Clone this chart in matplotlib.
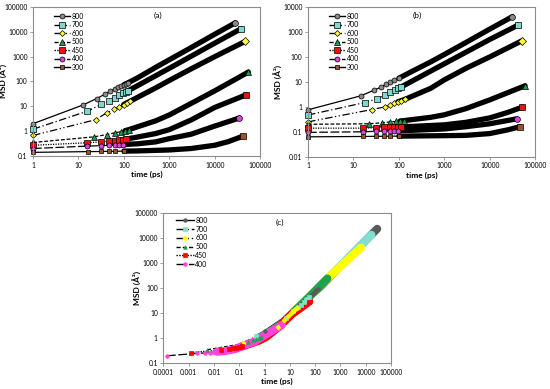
import matplotlib
matplotlib.use('Agg')
import matplotlib.pyplot as plt
import numpy as np
from matplotlib.lines import Line2D
from matplotlib.ticker import FuncFormatter, NullLocator

plt.rcParams['font.family'] = ['Lato', 'DejaVu Sans']

# ---------------- data: panel (a) ----------------
temps_a = ['800', '700', '600', '500', '450', '400', '300']

t_a_800 = [1, 12.9, 25, 37.5, 50, 62.5, 75, 87.5, 100, 112, 125, 200, 500, 1000, 3000, 10000, 28400]
msd_a_800 = [2.0, 11.5, 20.5, 30, 40, 49, 58, 66, 74, 82, 90, 140, 370, 750, 2300, 8000, 23000]

t_a_700 = [1, 15.8, 31.5, 47, 63, 79, 95, 110, 126, 200, 500, 1000, 3000, 10000, 38000]
msd_a_700 = [1.2, 6.4, 12, 17, 22, 27.5, 33, 38, 43, 68, 170, 340, 1030, 3500, 13300]

t_a_600 = [1, 24, 42, 61, 80, 99, 118, 137, 200, 500, 1000, 3000, 10000, 46500]
msd_a_600 = [0.67, 2.9, 5.5, 7.6, 9.7, 11.8, 14, 16, 23, 55, 110, 320, 1000, 4100]

t_a_500 = [1, 22, 42, 64, 85, 106, 128, 200, 500, 1000, 3000, 10000, 55000]
msd_a_500 = [0.35, 0.59, 0.73, 0.86, 0.95, 1.05, 1.15, 1.5, 2.6, 4.5, 13, 42, 240]

t_a_450 = [1, 15.4, 31.7, 48, 64, 80, 96, 112, 200, 500, 1000, 3000, 10000, 49000]
msd_a_450 = [0.27, 0.34, 0.37, 0.40, 0.42, 0.44, 0.46, 0.48, 0.58, 0.8, 1.15, 2.8, 9, 29]

t_a_400 = [1, 15.4, 31.7, 48, 64, 80, 96, 200, 500, 1000, 3000, 10000, 35000]
msd_a_400 = [0.2, 0.25, 0.26, 0.27, 0.275, 0.28, 0.29, 0.31, 0.37, 0.5, 0.75, 1.6, 3.4]

t_a_300 = [1, 16, 32, 48, 64, 100, 200, 1000, 3000, 10000, 20000, 42000]
msd_a_300 = [0.14, 0.15, 0.152, 0.154, 0.155, 0.157, 0.16, 0.175, 0.2, 0.27, 0.38, 0.63]

# ---------------- data: panel (b) ----------------
t_b_800 = [1, 14.9, 27.8, 41, 52, 65, 80, 100, 200, 500, 1000, 3000, 10000, 31500]
msd_b_800 = [0.76, 2.8, 4.6, 6.2, 7.9, 9.5, 11.5, 14, 27, 63, 125, 380, 1300, 4100]

t_b_700 = [1, 17.6, 33, 50, 65, 81, 97, 113, 200, 500, 1000, 3000, 10000, 42500]
msd_b_700 = [0.47, 1.48, 2.1, 3.0, 3.8, 4.6, 5.5, 6.3, 11, 27, 53, 155, 500, 1900]

t_b_600 = [1, 25.5, 50, 65, 80, 95, 110, 137, 200, 500, 1000, 3000, 10000, 52000]
msd_b_600 = [0.25, 0.78, 1.0, 1.24, 1.4, 1.6, 1.75, 2.0, 2.7, 5.5, 12, 35, 100, 450]

t_b_500 = [1, 22, 42, 64, 85, 106, 128, 200, 500, 1000, 3000, 10000, 60000]
msd_b_500 = [0.2, 0.21, 0.23, 0.25, 0.26, 0.27, 0.28, 0.31, 0.38, 0.48, 0.85, 1.9, 7]

t_b_450 = [1, 16, 32, 48, 64, 80, 96, 112, 200, 1000, 3000, 10000, 25000, 52000]
msd_b_450 = [0.14, 0.14, 0.145, 0.15, 0.15, 0.155, 0.16, 0.16, 0.165, 0.19, 0.24, 0.36, 0.6, 0.97]

t_b_400 = [1, 16, 32, 48, 64, 80, 96, 200, 1000, 3000, 10000, 39000]
msd_b_400 = [0.095, 0.1, 0.105, 0.107, 0.11, 0.11, 0.112, 0.115, 0.13, 0.16, 0.21, 0.33]

t_b_300 = [1, 16, 32, 48, 64, 100, 200, 1000, 3000, 10000, 25000, 46500]
msd_b_300 = [0.063, 0.065, 0.066, 0.066, 0.067, 0.067, 0.068, 0.07, 0.072, 0.085, 0.12, 0.16]

# ---------------- data: panel (c) (time shift factors applied to panel (a) data) ----------------
temps_c = ['800', '700', '600', '500', '450', '400']
shift_c = [1.0, 0.44, 0.14, 0.0055, 0.0012, 0.00014]

# ---------------- styles ----------------
colors_ab = ['#8a8a8a', '#80d8cc', '#ffff33', '#1e9a50', '#ee1111', '#dd44dd', '#a0522d']
colors_c = ['#5a5a5a', '#7fe0d2', '#ffff00', '#1fa34a', '#ff0000', '#ff44dd']
markers = ['o', 's', 'D', '^', 's', 'o', 's']
msizes = [3.6, 3.8, 3.0, 3.8, 3.8, 3.6, 3.4]
lstyles = ['-', (0, (6, 2, 1, 2)), (0, (6, 2, 1, 2, 1, 2)), (0, (3, 1.5)),
           (0, (1, 1)), (0, (7, 2)), '-']
spine_col = '#8c8c8c'

series_a = [(t_a_800, msd_a_800), (t_a_700, msd_a_700), (t_a_600, msd_a_600),
            (t_a_500, msd_a_500), (t_a_450, msd_a_450), (t_a_400, msd_a_400),
            (t_a_300, msd_a_300)]
series_b = [(t_b_800, msd_b_800), (t_b_700, msd_b_700), (t_b_600, msd_b_600),
            (t_b_500, msd_b_500), (t_b_450, msd_b_450), (t_b_400, msd_b_400),
            (t_b_300, msd_b_300)]


def plain(v, pos):
    return f"{v:.10g}"


def style_axes(ax, xlim, ylim, xticks, yticks, tag, tagx, tagy, ylab_x):
    ax.set_xscale('log')
    ax.set_yscale('log')
    ax.set_xlim(*xlim)
    ax.set_ylim(*ylim)
    ax.set_xticks(xticks)
    ax.set_yticks(yticks)
    ax.xaxis.set_minor_locator(NullLocator())
    ax.yaxis.set_minor_locator(NullLocator())
    ax.xaxis.set_major_formatter(FuncFormatter(plain))
    ax.yaxis.set_major_formatter(FuncFormatter(plain))
    ax.tick_params(axis='both', labelsize=4.8, length=2.5, width=0.6,
                   color=spine_col, pad=1.5, direction='out')
    for s in ax.spines.values():
        s.set_color(spine_col)
        s.set_linewidth(0.8)
    ax.set_xlabel('time (ps)', fontsize=6, fontweight='bold', labelpad=1.5)
    ax.set_ylabel('MSD (Å²)', fontsize=6, fontweight='bold')
    ax.yaxis.set_label_coords(ylab_x, 0.5)
    ax.text(tagx, tagy, tag, transform=ax.transAxes, fontsize=6,
            ha='center', va='center')


def draw_series(ax, t, y, face, marker, ms, ls, band_col, edge, band_lw, scale=1.0, z=2):
    t = np.asarray(t, dtype=float)
    y = np.asarray(y, dtype=float)
    sparse = t <= 140
    dense = t >= 95
    ts = t * scale
    ax.plot(ts[sparse], y[sparse], ls=ls, color='black', lw=0.9, zorder=z)
    ax.plot(ts[dense], y[dense], ls='-', color=band_col, lw=band_lw,
            solid_capstyle='round', zorder=z)
    ax.plot(ts[sparse], y[sparse], ls='none', marker=marker, mfc=face, mec=edge,
            ms=ms, mew=0.5, zorder=z + 0.1, clip_on=False)
    ax.plot(ts[-1:], y[-1:], ls='none', marker=marker, mfc=face, mec=edge,
            ms=ms + 0.6, mew=0.5, zorder=z + 0.2, clip_on=False)


fig = plt.figure(figsize=(5.5, 3.89), dpi=100)

ax_a = fig.add_axes([0.060, 0.599, 0.413, 0.383])
ax_b = fig.add_axes([0.560, 0.597, 0.413, 0.385])
ax_c = fig.add_axes([0.297, 0.066, 0.414, 0.387])

dec_x = [1, 10, 100, 1000, 10000, 100000]

for ax, series, ylim, yt, tag, tagx in [
        (ax_a, series_a, (0.1, 100000), [0.1, 1, 10, 100, 1000, 10000, 100000], '(a)', 0.55),
        (ax_b, series_b, (0.01, 10000), [0.01, 0.1, 1, 10, 100, 1000, 10000], '(b)', 0.48)]:
    style_axes(ax, (1, 100000), ylim, dec_x, yt, tag, tagx, 0.945, -0.11)
    handles = []
    for i, (t, y) in enumerate(series):
        draw_series(ax, t, y, colors_ab[i], markers[i], msizes[i], lstyles[i],
                    'black', 'black', 3.8, z=2 + i * 0.01)
        handles.append(Line2D([], [], color='black', ls=lstyles[i], lw=1.0,
                              marker=markers[i], mfc=colors_ab[i], mec='black',
                              ms=msizes[i], mew=0.5))
    ax.legend(handles, temps_a, loc='upper left', bbox_to_anchor=(0.07, 1.0),
              frameon=False, fontsize=5, handlelength=2.3, handletextpad=0.2,
              labelspacing=0.22, borderpad=0.3)

# panel (c)
style_axes(ax_c, (0.0001, 100000), (0.1, 100000),
           [0.0001, 0.001, 0.01, 0.1, 1, 10, 100, 1000, 10000, 100000],
           [0.1, 1, 10, 100, 1000, 10000, 100000], '(c)', 0.51, 0.935, -0.095)
handles_c = []
for i, lab in enumerate(temps_c):
    t, y = series_a[i]
    draw_series(ax_c, t, y, colors_c[i], markers[i], 2.6, lstyles[i],
                colors_c[i], colors_c[i], 5.8, scale=shift_c[i], z=2 + i * 0.01)
    handles_c.append(Line2D([], [], color='black', ls=lstyles[i], lw=1.0,
                            marker=markers[i], mfc=colors_c[i], mec=colors_c[i],
                            ms=2.6, mew=0.5))
ax_c.legend(handles_c, temps_c, loc='upper left', bbox_to_anchor=(0.03, 1.01),
            frameon=False, fontsize=5, handlelength=2.6, handletextpad=0.2,
            labelspacing=0.25, borderpad=0.3)

fig.savefig('out.png', dpi=100)
